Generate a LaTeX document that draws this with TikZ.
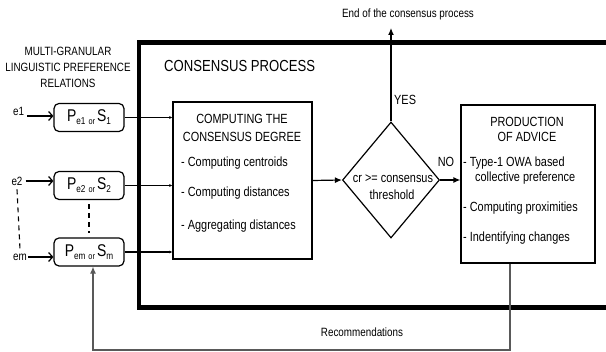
\documentclass[tikz,border=0pt]{standalone}
\usepackage{fontspec}
\setmainfont{Liberation Sans}[FakeStretch=0.82]
\usetikzlibrary{arrows.meta,shapes.geometric}
\newcommand\prel[2]{{\fontsize{17}{17}\selectfont P}\raisebox{-3pt}{\fontsize{10}{10}\selectfont #1}\hspace{3pt}\raisebox{-3pt}{\fontsize{9}{9}\selectfont or}\hspace{2pt}{\fontsize{17}{17}\selectfont S}\raisebox{-3pt}{\fontsize{10}{10}\selectfont #2}}

\begin{document}
\begin{tikzpicture}[x=1pt, y=-1pt,
  box/.style={draw, line width=1.2pt, inner sep=0pt},
  pbox/.style={draw, line width=1.2pt, rounded corners=5pt, minimum width=70pt, minimum height=28pt, inner sep=0pt},
  txt/.style={font=\fontsize{13.3}{15}\selectfont, inner sep=0pt},
  sml/.style={font=\fontsize{12}{16}\selectfont, inner sep=0pt},
  flow/.style={line width=1.2pt, -{Latex[length=7pt, width=6pt]}},
  feed/.style={line width=1.2pt, -{Straight Barb[length=4pt, width=9pt]}},
  tinyarr/.style={line width=1.2pt, -{Latex[length=3pt, width=3pt]}},
  fbline/.style={line width=1.1pt, draw=black!65}]
  \useasboundingbox (0, 0) rectangle (606, 352);
  \clip (0, 0) rectangle (606, 352);
  \draw[line width=4.5pt] (620, 42.7) -| (139, 307.5) -- (620, 307.5);
  \node[txt, font=\fontsize{16}{18}\selectfont, anchor=west] (cp) at (164, 66) {CONSENSUS PROCESS};
  \node[sml, align=center] (mglpr) at (68, 67) {MULTI-GRANULAR\\LINGUISTIC PREFERENCE\\RELATIONS};
  \node[pbox] (p1) at (89, 117.5) {\prel{e1}{1}};
  \node[pbox] (p2) at (89, 185.5) {\prel{e2}{2}};
  \node[pbox] (pm) at (89, 252) {\prel{em}{m}};
  \node[sml, anchor=south west] (e1) at (13, 116) {e1};
  \node[sml] (e2) at (17, 181) {e2};
  \node[sml] (em) at (20, 257) {em};
  \draw[feed] ([xshift=3pt]e1.south east) -- (e1.south east -| p1.west);
  \draw[feed] ([xshift=3pt]e2.east) -- (e2.east -| p2.west);
  \draw[feed] ([xshift=1pt]em.east) -- (em.east -| pm.west);
  \draw[line width=1.1pt, dash pattern=on 5pt off 4pt] ([yshift=-4pt]e2.south) -- ([yshift=4pt]em.north);
  \draw[line width=1.1pt, dash pattern=on 5pt off 4pt] ([yshift=-4pt]p2.south) -- ([yshift=4pt]pm.north);
  \node[box, minimum width=139pt, minimum height=157pt] (cons) at (242.5, 180.5) {};
  \draw[tinyarr] (p1.east) -- (p1.east -| cons.west);
  \draw[tinyarr] (p2.east) -- (p2.east -| cons.west);
  \draw[tinyarr] (pm.east) -- (pm.east -| cons.west);
  \node[txt] (ct1) at (242, 119) {COMPUTING THE};
  \node[txt] (ct2) at (242, 137) {CONSENSUS DEGREE};
  \node[txt, anchor=west] (ci1) at (181, 163) {- Computing centroids};
  \node[txt, anchor=west] (ci2) at (181, 193) {- Computing distances};
  \node[txt, anchor=west] (ci3) at (181, 226) {- Aggregating distances};
  \node[diamond, draw, line width=1.2pt, minimum width=97pt, minimum height=116pt, inner sep=0pt] (dec) at (391, 180) {};
  \node[txt] (dt1) at (393, 179) {cr >= consensus};
  \node[txt] (dt2) at (392, 195) {threshold};
  \draw[flow] (cons.east) -- (dec.west);
  \node[box, minimum width=134pt, minimum height=158pt] (adv) at (528, 184) {};
  \draw[flow] (dec.east) -- (dec.east -| adv.west);
  \node[txt] (no) at (446, 162) {NO};
  \node[sml, anchor=south] (fin) at (408, 20) {End of the consensus process};
  \coordinate (top) at (391, 28);
  \draw[flow] (dec.north) -- (dec.north |- top);
  \node[txt, anchor=west] (yes) at (394, 100) {YES};
  \node[txt] (a1) at (527, 122) {PRODUCTION};
  \node[txt] (a2) at (527, 137) {OF ADVICE};
  \node[txt, anchor=west] (a3) at (463, 163) {- Type-1 OWA based};
  \node[txt, anchor=west] (a4) at (475, 178) {collective preference};
  \node[txt, anchor=west] (a5) at (463, 208) {- Computing proximities};
  \node[txt, anchor=west] (a6) at (463, 238) {- Indentifying changes};
  \coordinate (fb) at (93, 350);
  \draw[fbline, -{Latex[length=7pt, width=6pt]}] ([xshift=-18pt]adv.south) |- (fb) -- (fb |- pm.south);
  \node[sml] (rec) at (362, 332) {Recommendations};
\end{tikzpicture}
\end{document}
